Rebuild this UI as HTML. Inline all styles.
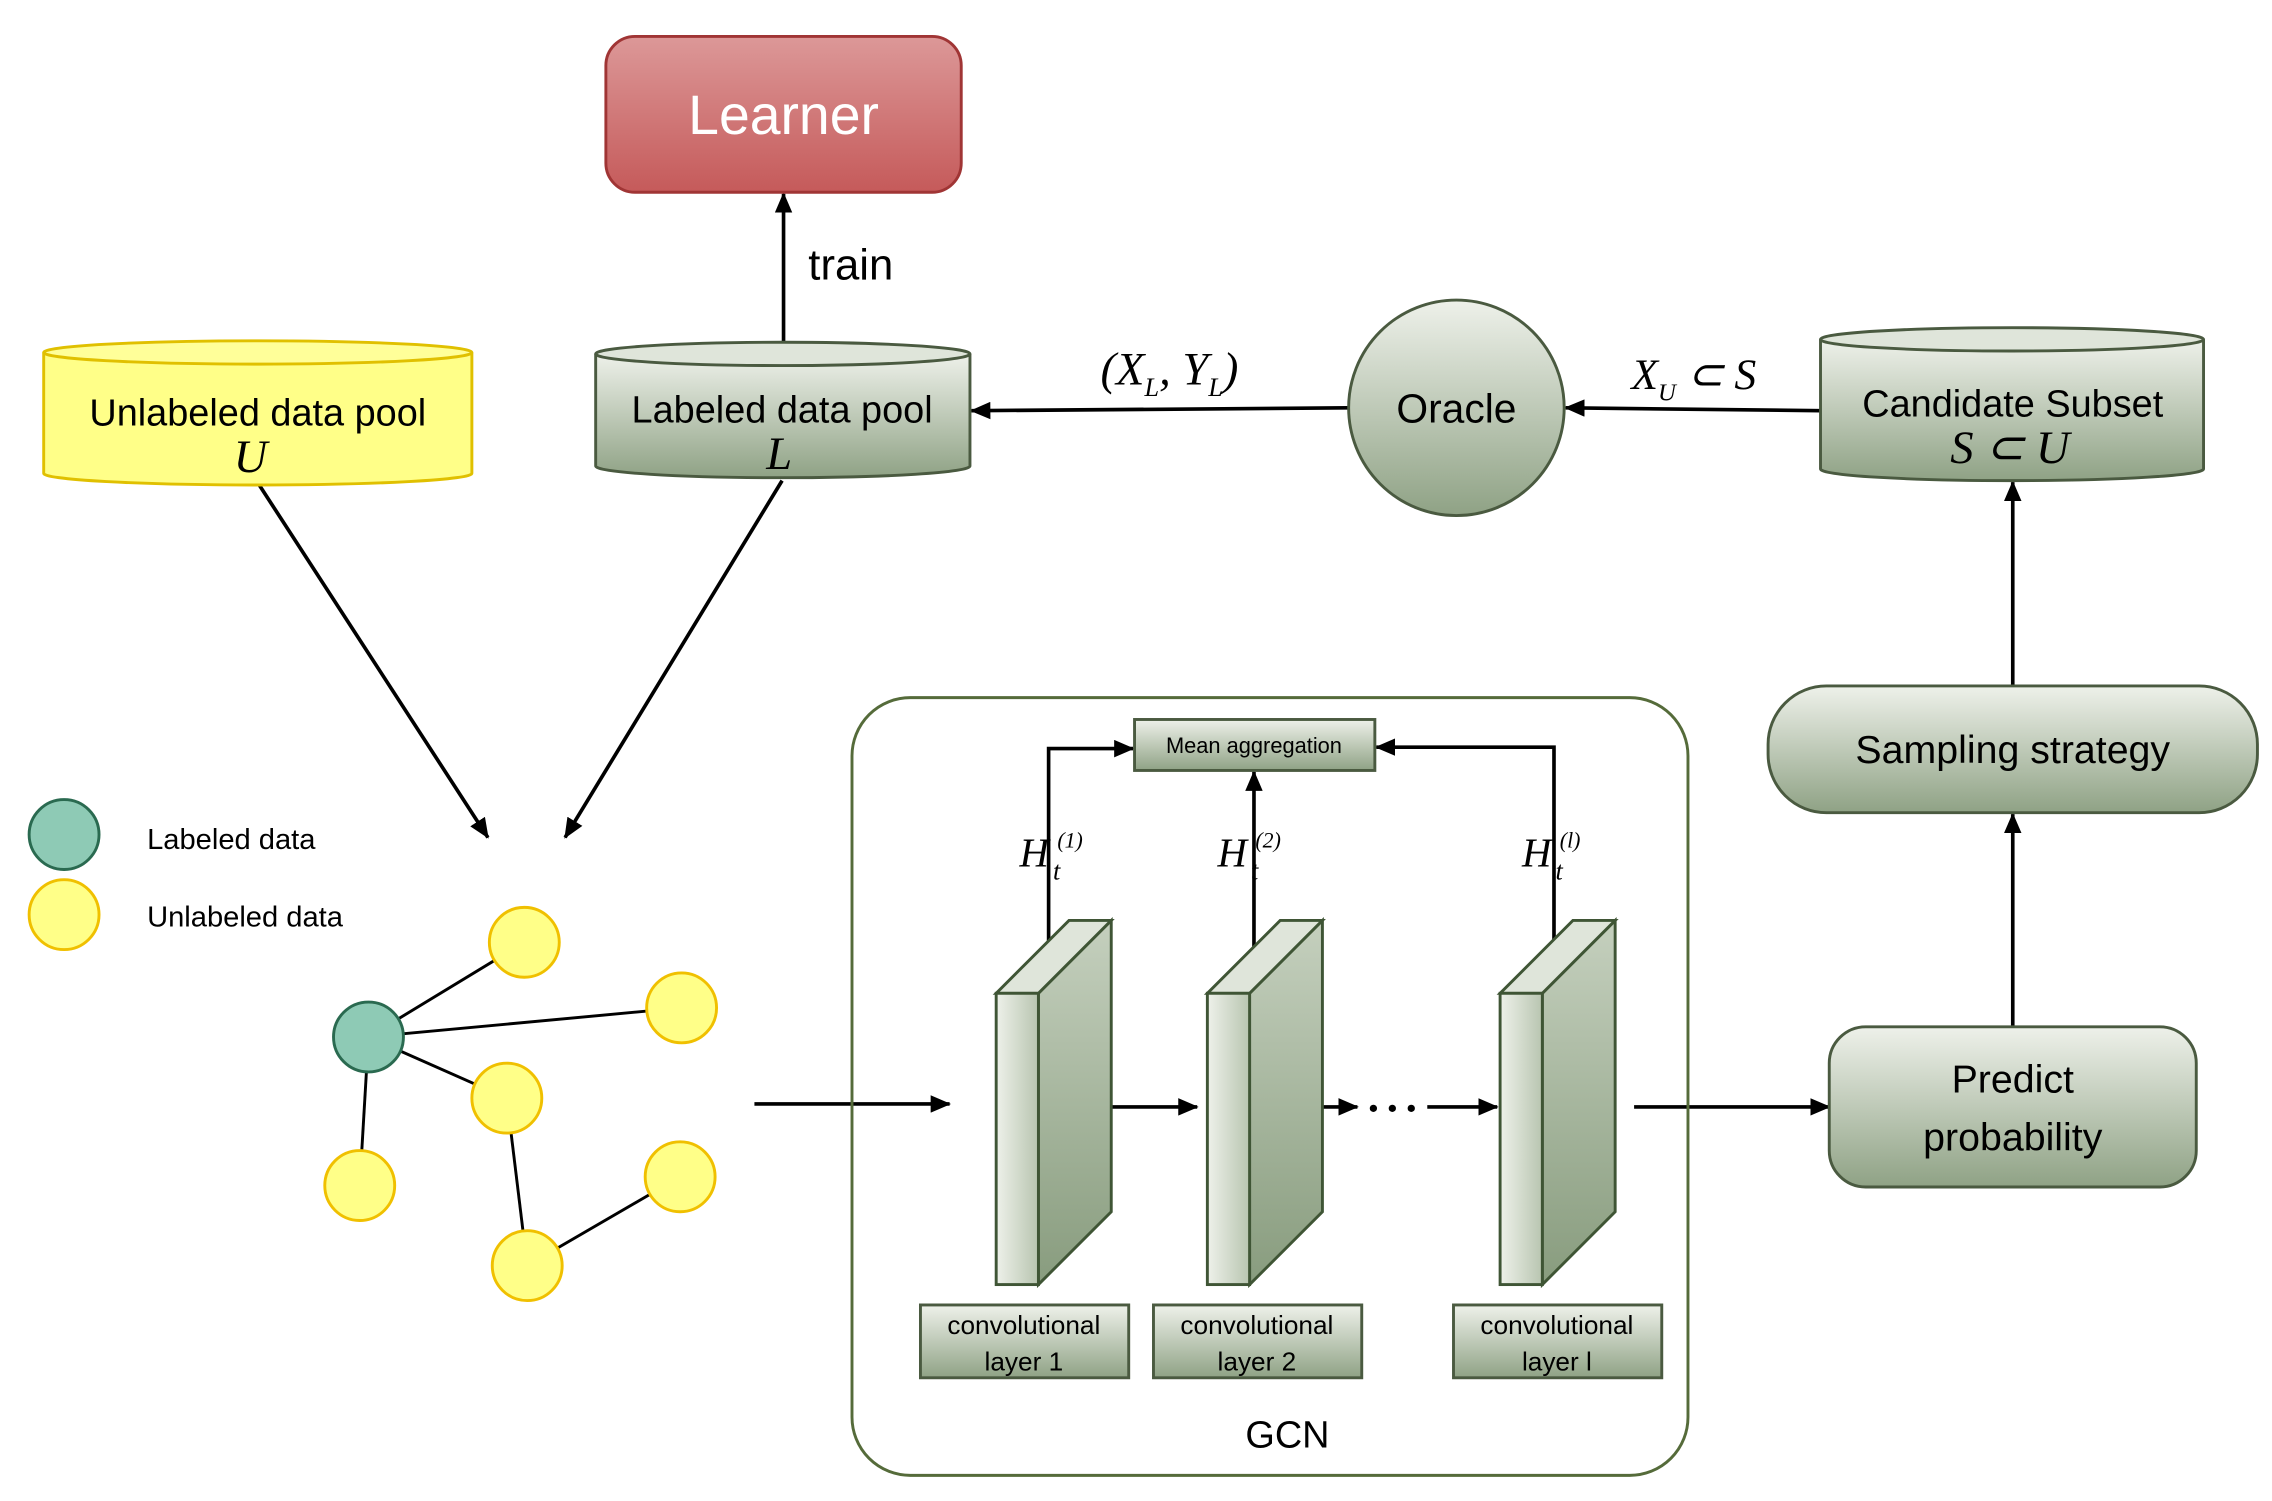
<!DOCTYPE html>
<html><head><meta charset="utf-8"><style>
html,body{margin:0;padding:0;background:#fff}
svg{display:block}
text{font-family:"Liberation Sans",sans-serif}
.m{font-family:"Liberation Serif",serif;font-style:italic}
</style></head><body>
<svg width="2272" height="1501" viewBox="0 0 1560 1030.6" preserveAspectRatio="none" xmlns="http://www.w3.org/2000/svg">
<defs>
<linearGradient id="g" x1="0" y1="0" x2="0" y2="1"><stop offset="0" stop-color="#eef1ea"/><stop offset="1" stop-color="#8fa285"/></linearGradient>
<linearGradient id="gs" x1="0" y1="0" x2="0" y2="1"><stop offset="0" stop-color="#c5d0be"/><stop offset="1" stop-color="#889c7e"/></linearGradient>
<linearGradient id="gh" x1="0" y1="0" x2="1" y2="0"><stop offset="0" stop-color="#eef1ea"/><stop offset="1" stop-color="#b8c5b0"/></linearGradient>
<linearGradient id="r" x1="0" y1="0" x2="0" y2="1"><stop offset="0" stop-color="#dc9898"/><stop offset="1" stop-color="#c55a5a"/></linearGradient>
<marker id="a" markerWidth="14" markerHeight="12" refX="13" refY="6" orient="auto" markerUnits="userSpaceOnUse"><path d="M0,0 L14,6 L0,12 z" fill="#000"/></marker>
</defs>
<g stroke="#000" stroke-width="2.5" fill="none" marker-end="url(#a)">
<line x1="538" y1="235" x2="538" y2="133"/>
<line x1="926" y1="280" x2="667" y2="282"/>
<line x1="1250" y1="282" x2="1075" y2="280"/>
<line x1="1382" y1="705" x2="1382" y2="559"/>
<line x1="1382" y1="471" x2="1382" y2="331"/>
<line x1="178" y1="333" x2="335" y2="575"/>
<line x1="537" y1="330" x2="388" y2="575"/>
<line x1="518" y1="758" x2="652" y2="758"/>
<line x1="740" y1="760" x2="822" y2="760"/>
<line x1="882" y1="760" x2="932" y2="760"/>
<line x1="980" y1="760" x2="1028" y2="760"/>
<line x1="1122" y1="760" x2="1256" y2="760"/>
<polyline points="720,657 720,514 778,514"/>
<line x1="861" y1="657" x2="861" y2="530"/>
<polyline points="1067,657 1067,513 945,513"/>
</g>
<circle cx="943" cy="761" r="2.5"/><circle cx="956" cy="761" r="2.5"/><circle cx="969" cy="761" r="2.5"/>
<!-- Learner -->
<rect x="416" y="25" width="244" height="107" rx="20" fill="url(#r)" stroke="#a03535" stroke-width="2"/>
<text x="538" y="92" font-size="38" fill="#fff" text-anchor="middle">Learner</text>
<text x="555" y="192" font-size="30">train</text>
<!-- Unlabeled pool -->
<path d="M30,242 L30,325 A147,8 0 0 0 324,325 L324,242" fill="#ffff88" stroke="#e0c000" stroke-width="2"/>
<ellipse cx="177" cy="242" rx="147" ry="8" fill="#ffff99" stroke="#e0c000" stroke-width="2"/>
<text x="177" y="292" font-size="26" text-anchor="middle">Unlabeled data pool</text>
<text x="172" y="324" font-size="32" class="m" text-anchor="middle">U</text>
<!-- Labeled pool -->
<path d="M409,243 L409,320 A128.5,8 0 0 0 666,320 L666,243" fill="url(#g)" stroke="#4a5a40" stroke-width="2"/>
<ellipse cx="537.5" cy="243" rx="128.5" ry="8" fill="#dfe5da" stroke="#4a5a40" stroke-width="2"/>
<text x="537" y="290" font-size="26" text-anchor="middle">Labeled data pool</text>
<text x="535" y="322" font-size="32" class="m" text-anchor="middle">L</text>
<text x="803" y="264" font-size="32" class="m" text-anchor="middle">(X<tspan font-size="18" dy="8">L</tspan><tspan dy="-8">, Y</tspan><tspan font-size="18" dy="8">L</tspan><tspan dy="-8">)</tspan></text>
<!-- Oracle -->
<circle cx="1000" cy="280" r="74" fill="url(#g)" stroke="#4a5a40" stroke-width="2"/>
<text x="1000" y="290" font-size="28" text-anchor="middle">Oracle</text>
<text x="1163" y="267" font-size="30" class="m" text-anchor="middle">X<tspan font-size="17" dy="8">U</tspan><tspan dy="-8"> ⊂ S</tspan></text>
<!-- Candidate -->
<path d="M1250,233 L1250,322 A131.5,8 0 0 0 1513,322 L1513,233" fill="url(#g)" stroke="#4a5a40" stroke-width="2"/>
<ellipse cx="1381.5" cy="233" rx="131.5" ry="8" fill="#dfe5da" stroke="#4a5a40" stroke-width="2"/>
<text x="1382" y="286" font-size="26" text-anchor="middle">Candidate Subset</text>
<text x="1380" y="318" font-size="32" class="m" text-anchor="middle">S ⊂ U</text>
<!-- Sampling / Predict -->
<rect x="1214" y="471" width="336" height="87" rx="40" fill="url(#g)" stroke="#4a5a40" stroke-width="2"/>
<text x="1382" y="524" font-size="27" text-anchor="middle">Sampling strategy</text>
<rect x="1256" y="705" width="252" height="110" rx="25" fill="url(#g)" stroke="#4a5a40" stroke-width="2"/>
<text x="1382" y="750" font-size="27" text-anchor="middle">Predict</text>
<text x="1382" y="790" font-size="27" text-anchor="middle">probability</text>
<!-- GCN -->
<rect x="585" y="479" width="574" height="534" rx="40" fill="none" stroke="#556b3a" stroke-width="2"/>
<text x="884" y="994" font-size="26" text-anchor="middle">GCN</text>
<rect x="779" y="494" width="165" height="35" fill="url(#g)" stroke="#4a5a40" stroke-width="2"/>
<text x="861" y="517" font-size="15" text-anchor="middle">Mean aggregation</text>
<g stroke="#3f5535" stroke-width="2">
<g id="b1">
<polygon points="713,682 763,632 763,832 713,882" fill="url(#gs)"/>
<polygon points="684,682 734,632 763,632 713,682" fill="#dfe5da"/>
<rect x="684" y="682" width="29" height="200" fill="url(#gh)"/>
</g>
<use href="#b1" x="145"/>
<use href="#b1" x="346"/>
</g>
<g class="m">
<text x="700" y="595" font-size="28" class="m">H</text><text x="723" y="604" font-size="18" class="m">t</text><text x="726" y="582" font-size="15" class="m">(1)</text>
<text x="836" y="595" font-size="28" class="m">H</text><text x="859" y="604" font-size="18" class="m">t</text><text x="862" y="582" font-size="15" class="m">(2)</text>
<text x="1045" y="595" font-size="28" class="m">H</text><text x="1068" y="604" font-size="18" class="m">t</text><text x="1071" y="582" font-size="15" class="m">(l)</text>
</g>
<g fill="url(#g)" stroke="#4a5a40" stroke-width="2">
<rect x="632" y="896" width="143" height="50"/>
<rect x="792" y="896" width="143" height="50"/>
<rect x="998" y="896" width="143" height="50"/>
</g>
<g font-size="18" text-anchor="middle">
<text x="703" y="916">convolutional</text><text x="703" y="941">layer 1</text>
<text x="863" y="916">convolutional</text><text x="863" y="941">layer 2</text>
<text x="1069" y="916">convolutional</text><text x="1069" y="941">layer l</text>
</g>
<!-- Legend -->
<circle cx="44" cy="573" r="24" fill="#8ecab5" stroke="#2a6a50" stroke-width="2"/>
<text x="101" y="583" font-size="20">Labeled data</text>
<circle cx="44" cy="628" r="24" fill="#ffff88" stroke="#f0c000" stroke-width="2"/>
<text x="101" y="636" font-size="20">Unlabeled data</text>
<!-- Graph -->
<g stroke="#000" stroke-width="2">
<line x1="253" y1="712" x2="360" y2="647"/><line x1="253" y1="712" x2="468" y2="692"/>
<line x1="253" y1="712" x2="348" y2="754"/><line x1="253" y1="712" x2="247" y2="814"/>
<line x1="348" y1="754" x2="362" y2="869"/><line x1="362" y1="869" x2="467" y2="808"/>
</g>
<g fill="#ffff88" stroke="#f0c000" stroke-width="2">
<circle cx="360" cy="647" r="24"/><circle cx="468" cy="692" r="24"/><circle cx="348" cy="754" r="24"/>
<circle cx="247" cy="814" r="24"/><circle cx="467" cy="808" r="24"/><circle cx="362" cy="869" r="24"/>
</g>
<circle cx="253" cy="712" r="24" fill="#8ecab5" stroke="#2a6a50" stroke-width="2"/>
</svg>
</body></html>
